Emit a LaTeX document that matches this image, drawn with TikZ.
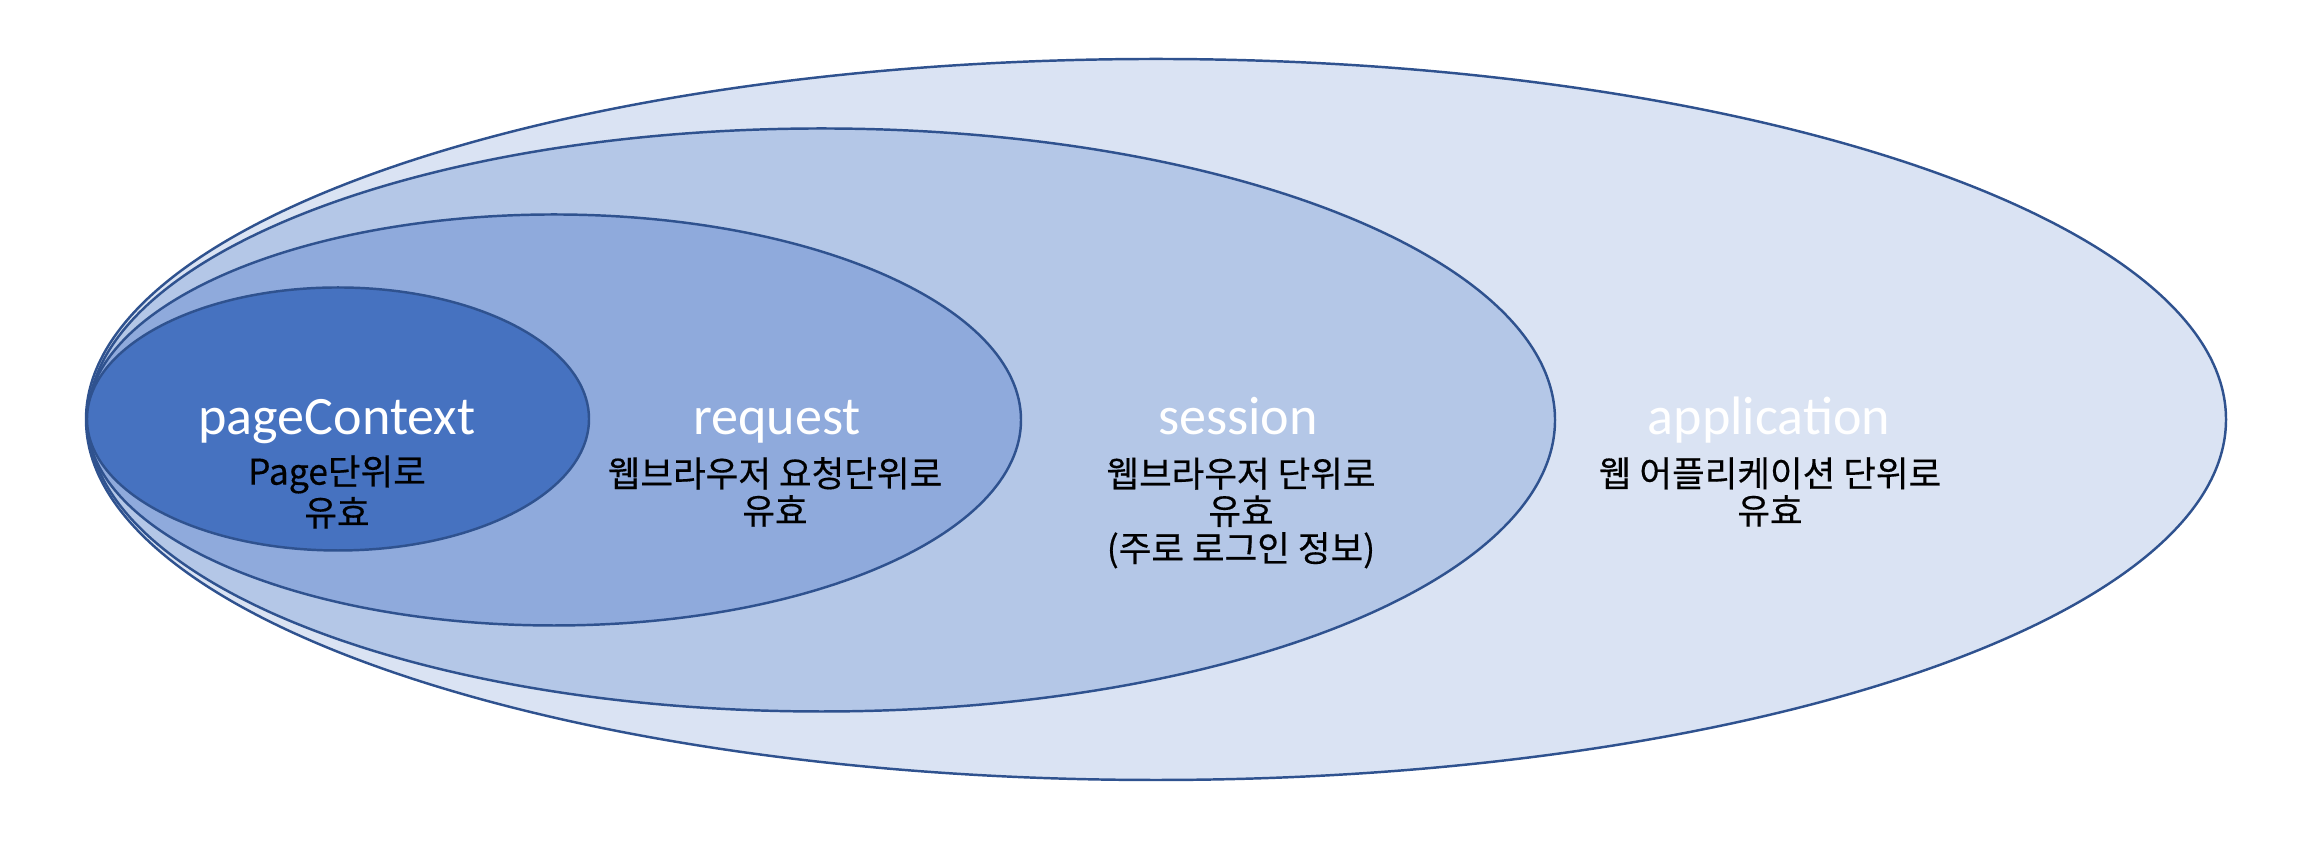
\documentclass[tikz,border=0pt]{standalone}
\usepackage{fontspec}
\usepackage{xcolor}
\newfontfamily\titlefont{Carlito}
\newfontfamily\krfont[FakeBold=0.4]{Noto Sans CJK KR}
\usetikzlibrary{shapes.geometric}
\definecolor{scopeline}{HTML}{2F528F}
\definecolor{appfill}{HTML}{DAE3F3}
\definecolor{sessionfill}{HTML}{B4C7E7}
\definecolor{requestfill}{HTML}{8FAADC}
\definecolor{pagefill}{HTML}{4672C0}
\tikzset{
  scopezone/.style={
    shape = ellipse,
    draw = scopeline,
    line width = 0.7pt,
    inner sep = 0pt
  },
  scopetitle/.style={
    anchor = base,
    inner sep = 0pt,
    text = white,
    font = \titlefont\fontsize{15.4pt}{18pt}\selectfont
  },
  scopenote/.style={
    align = center,
    inner sep = 0pt,
    text = black,
    font = \krfont\fontsize{10.1pt}{10.6pt}\selectfont
  }
}
\begin{document}
\begin{tikzpicture}
    \useasboundingbox (0,0) rectangle (23.04,8.5);
    % nested scopes, outermost first
    \node[scopezone, fill=appfill, minimum width=21.40cm, minimum height=7.21cm] (app) at (11.56,4.305) {};
    \node[scopezone, fill=sessionfill, minimum width=14.67cm, minimum height=5.83cm] (session) at (8.215,4.30) {};
    \node[scopezone, fill=requestfill, minimum width=9.34cm, minimum height=4.11cm] (request) at (5.54,4.30) {};
    \node[scopezone, fill=pagefill, minimum width=5.02cm, minimum height=2.63cm] (page) at (3.38,4.31) {};
    % titles
    \node[scopetitle] (pagetitle) at (3.37,4.15) {pageContext};
    \node[scopetitle] (requesttitle) at (7.77,4.15) {request};
    \node[scopetitle] (sessiontitle) at (12.38,4.15) {session};
    \node[scopetitle] (apptitle) at (17.69,4.15) {application};
    % notes
    \node[scopenote] (pagenote) at (3.37,3.58) {Page단위로\\유효};
    \node[scopenote] (requestnote) at (7.75,3.58) {웹브라우저 요청단위로\\유효};
    \node[scopenote] (sessionnote) at (12.41,3.37) {웹브라우저 단위로\\유효\\(주로 로그인 정보)};
    \node[scopenote] (appnote) at (17.70,3.58) {웹 어플리케이션 단위로\\유효};
\end{tikzpicture}
\end{document}
